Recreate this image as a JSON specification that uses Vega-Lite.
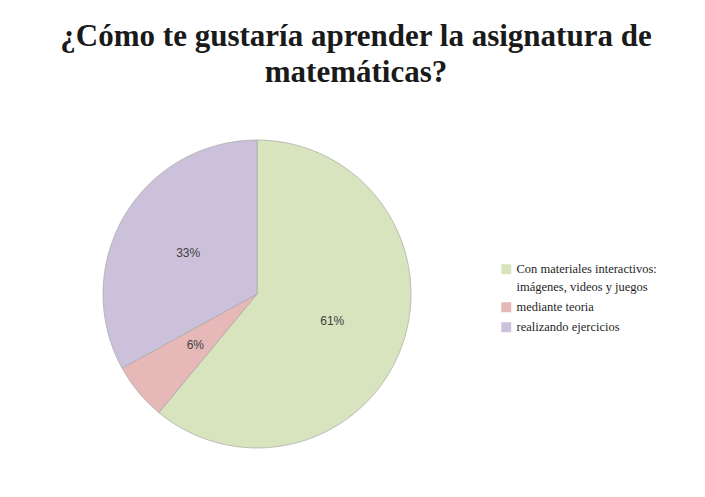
{
  "$schema": "https://vega.github.io/schema/vega-lite/v6.json",
  "width": 494,
  "height": 406,
  "autosize": {"type": "none"},
  "padding": {"left": 10, "top": 91, "right": 201, "bottom": 0},
  "background": "white",
  "title": {
    "text": ["¿Cómo te gustaría aprender la asignatura de", "matemáticas?"],
    "font": "Liberation Serif",
    "fontSize": 31,
    "fontWeight": "bold",
    "color": "#1a1a1a",
    "lineHeight": 36,
    "anchor": "middle",
    "dx": 99,
    "offset": 2
  },
  "config": {"view": {"stroke": null}, "style": {"guide-label": {"lineHeight": 18}}},
  "data": {
    "values": [
      {"categoria": "Con materiales interactivos: imágenes, videos y juegos", "porcentaje": 61, "etiqueta": "61%"},
      {"categoria": "mediante teoria", "porcentaje": 6, "etiqueta": "6%"},
      {"categoria": "realizando ejercicios", "porcentaje": 33, "etiqueta": "33%"}
    ]
  },
  "layer": [
    {
      "mark": {"type": "arc", "radius": 154, "stroke": "#a8a8a8", "strokeWidth": 0.7},
      "encoding": {
        "theta": {"field": "porcentaje", "type": "quantitative", "stack": true},
        "order": {"field": "categoria", "type": "nominal", "sort": "ascending"},
        "color": {
          "field": "categoria",
          "type": "nominal",
          "scale": {
            "domain": ["Con materiales interactivos: imágenes, videos y juegos", "mediante teoria", "realizando ejercicios"],
            "range": ["#d7e4bd", "#e6b9b8", "#ccc1da"]
          },
          "legend": {
            "title": null,
            "orient": "none",
            "legendX": 490,
            "legendY": 172,
            "symbolType": "square",
            "symbolSize": 100,
            "symbolStrokeWidth": 0,
            "labelFont": "Liberation Serif",
            "labelFontSize": 12.5,
            "labelColor": "#1f1f1f",
            "labelOffset": 4,
            "labelLimit": 300,
            "rowPadding": 7,
            "labelExpr": "indexof(datum.label, ':') > 0 ? ['Con materiales interactivos:', 'imágenes, videos y juegos'] : datum.label",
            "encode": {"labels": {"lineHeight": {"value": 18}}}
          }
        }
      }
    },
    {
      "mark": {"type": "text", "radius": 80, "font": "Liberation Sans", "fontSize": 12, "fill": "#404040"},
      "encoding": {
        "theta": {"field": "porcentaje", "type": "quantitative", "stack": true},
        "order": {"field": "categoria", "type": "nominal", "sort": "ascending"},
        "detail": {"field": "categoria", "type": "nominal"},
        "text": {"field": "etiqueta", "type": "nominal"}
      }
    }
  ]
}
